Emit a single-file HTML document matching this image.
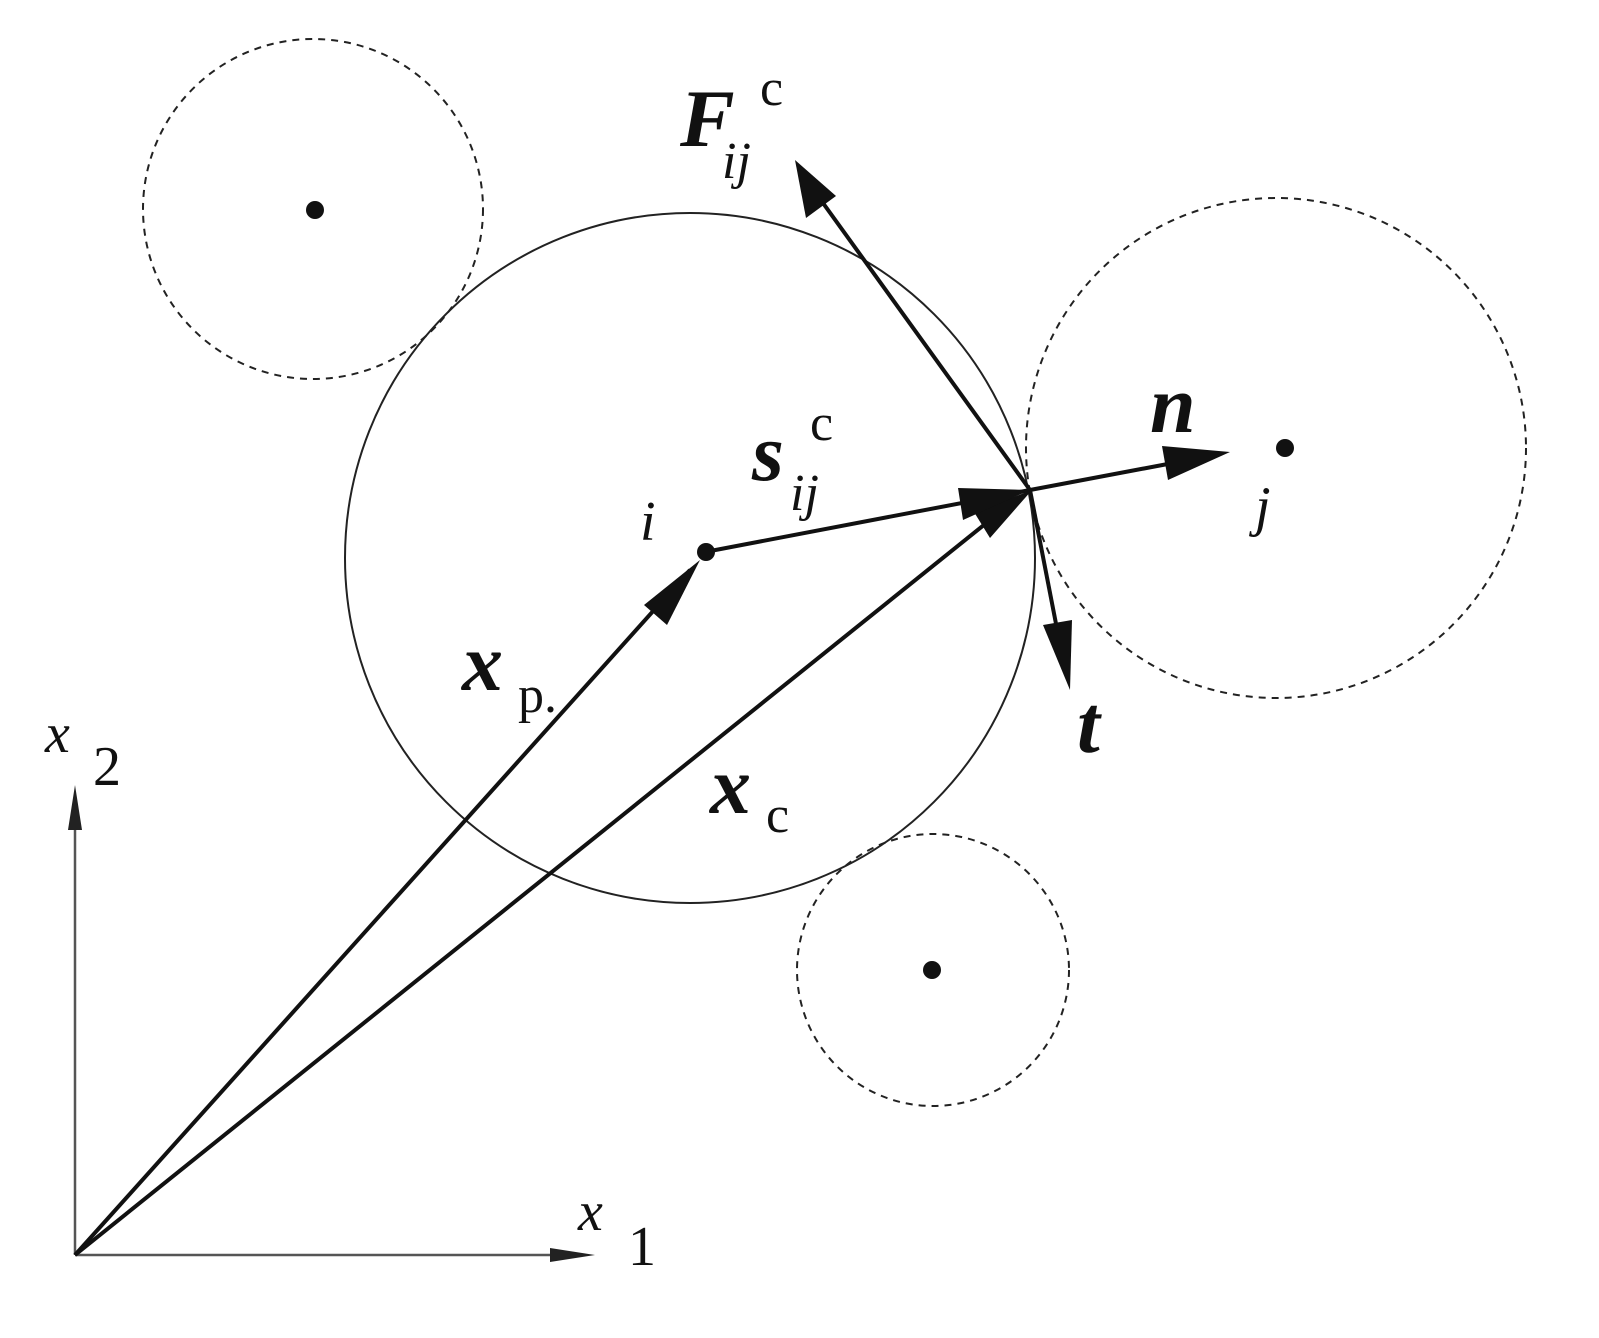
<!DOCTYPE html>
<html><head><meta charset="utf-8"><style>
html,body{margin:0;padding:0;background:#fff}
svg{display:block}
text{font-family:"Liberation Serif",serif;fill:#111}
</style></head><body>
<svg width="1599" height="1338" viewBox="0 0 1599 1338" xmlns="http://www.w3.org/2000/svg">
<defs>
<marker id="a" markerWidth="10" markerHeight="8" refX="10" refY="4" orient="auto" markerUnits="userSpaceOnUse" viewBox="0 0 10 8">
</marker>
</defs>
<g fill="none" stroke="#222" stroke-width="2">
<circle cx="313" cy="209" r="170" stroke-dasharray="7,6"/>
<circle cx="1276" cy="448" r="250" stroke-dasharray="7,6"/>
<circle cx="933" cy="970" r="136" stroke-dasharray="7,6"/>
<circle cx="690" cy="558" r="345"/>
</g>
<g stroke="#555" stroke-width="2.5">
<line x1="75" y1="1255" x2="75" y2="800"/>
<line x1="75" y1="1255" x2="580" y2="1255"/>
</g>
<polygon points="75,785 68,830 82,830" fill="#222"/>
<polygon points="595,1255 550,1248 550,1262" fill="#222"/>
<g stroke="#111" stroke-width="4">
<line x1="75" y1="1255" x2="690" y2="570"/>
<line x1="75" y1="1255" x2="1015" y2="500"/>
<line x1="705" y1="552" x2="1030" y2="490"/>
<line x1="1030" y1="490" x2="1210" y2="456"/>
<line x1="1030" y1="490" x2="810" y2="185"/>
<line x1="1030" y1="490" x2="1065" y2="670"/>
</g>
<g fill="#111">
<polygon points="700,560 644,605 667,625"/>
<polygon points="1032,490 974,512 990,538"/>
<polygon points="1030,490 958,488 963,520"/>
<polygon points="1230,452 1162,446 1168,480"/>
<polygon points="795,160 806,218 836,196"/>
<polygon points="1070,690 1043,625 1072,620"/>
<circle cx="315" cy="210" r="9"/>
<circle cx="706" cy="552" r="9"/>
<circle cx="1285" cy="448" r="9"/>
<circle cx="932" cy="970" r="9"/>
</g>
<text x="680" y="146" font-size="82" font-weight="bold" font-style="italic">F</text>
<text x="722" y="178" font-size="52" font-style="italic">ij</text>
<text x="760" y="105" font-size="52">c</text>
<text x="752" y="480" font-size="82" font-weight="bold" font-style="italic">s</text>
<text x="790" y="510" font-size="52" font-style="italic">ij</text>
<text x="810" y="440" font-size="52">c</text>
<text x="1150" y="432" font-size="82" font-weight="bold" font-style="italic">n</text>
<text x="640" y="540" font-size="56" font-style="italic">i</text>
<text x="1255" y="525" font-size="56" font-style="italic">j</text>
<text x="462" y="690" font-size="82" font-weight="bold" font-style="italic">x</text>
<text x="518" y="712" font-size="52">p.</text>
<text x="710" y="813" font-size="82" font-weight="bold" font-style="italic">x</text>
<text x="766" y="832" font-size="52">c</text>
<text x="1077" y="752" font-size="82" font-weight="bold" font-style="italic">t</text>
<text x="45" y="752" font-size="56" font-style="italic">x</text>
<text x="93" y="785" font-size="56">2</text>
<text x="578" y="1230" font-size="56" font-style="italic">x</text>
<text x="628" y="1265" font-size="56">1</text>
</svg>
</body></html>
